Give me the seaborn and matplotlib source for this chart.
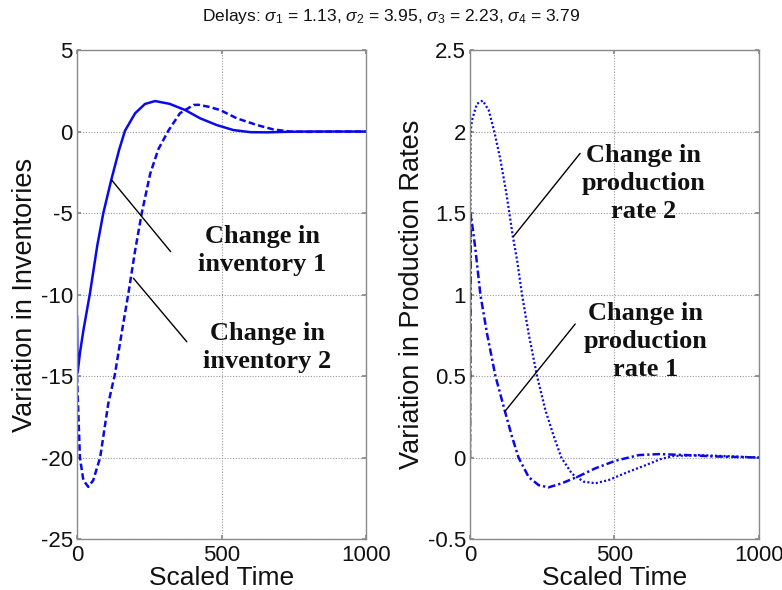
import matplotlib
matplotlib.use("Agg")
import matplotlib.pyplot as plt
import seaborn as sns
import pandas as pd

# ---------------- data ----------------
t_inv1 = [0, 2, 10, 22, 45, 70, 91, 118, 146, 166, 201, 235, 270, 320, 374,
          426, 483, 541, 600, 660, 720, 800, 900, 1000]
inv1 = [-11.3, -14.8, -13.6, -12.2, -9.9, -7.0, -5.0, -3.0, -1.1, 0.05, 1.12,
        1.69, 1.87, 1.70, 1.32, 0.81, 0.40, 0.09, -0.04, -0.05, -0.02, 0.0,
        0.0, 0.0]

t_inv2 = [0, 10, 22, 39, 56, 80, 108, 131, 155, 178, 201, 224, 253, 281, 316,
          356, 403, 420, 455, 495, 553, 622, 679, 737, 800, 900, 1000]
inv2 = [-15.0, -20.0, -21.4, -21.8, -21.4, -20.0, -16.7, -14.9, -12.3, -9.9,
        -7.3, -5.0, -2.6, -1.1, 0.05, 1.12, 1.63, 1.64, 1.52, 1.32, 0.81, 0.40,
        0.13, 0.0, -0.02, 0.0, 0.0]

t_rate1 = [0, 3, 18, 36, 59, 88, 120, 145, 168, 203, 238, 272, 318, 376, 434,
           503, 584, 653, 750, 840, 1000]
rate1 = [0.0, 1.49, 1.29, 1.0, 0.76, 0.50, 0.29, 0.13, 0.0, -0.12, -0.17,
         -0.183, -0.158, -0.115, -0.066, -0.02, 0.015, 0.021, 0.015, 0.007, 0.0]

t_rate2 = [0, 2, 7, 24, 44, 65, 84, 105, 126, 148, 163, 180, 203, 232, 261,
           290, 316, 353, 393, 434, 480, 549, 611, 657, 703, 790, 905, 1000]
rate2 = [0.0, 2.0, 2.07, 2.17, 2.19, 2.13, 2.0, 1.83, 1.62, 1.36, 1.21, 1.0,
         0.76, 0.50, 0.29, 0.13, 0.0, -0.10, -0.148, -0.158, -0.138, -0.087,
         -0.045, -0.011, 0.009, 0.015, 0.007, 0.0]

x_ticks = [0, 500, 1000]
inv_ticks = [-25, -20, -15, -10, -5, 0, 5]
rate_ticks = [-0.5, 0, 0.5, 1, 1.5, 2, 2.5]
x_tick_labels = ["0", "500", "1000"]
inv_tick_labels = ["-25", "-20", "-15", "-10", "-5", "0", "5"]
rate_tick_labels = ["-0.5", "0", "0.5", "1", "1.5", "2", "2.5"]

title = (r"Delays: $\sigma_1$ = 1.13, $\sigma_2$ = 3.95, "
         r"$\sigma_3$ = 2.23, $\sigma_4$ = 3.79")

# ---------------- styling ----------------
sns.set_theme(style="white")
plt.rcParams["font.family"] = ["Liberation Sans", "DejaVu Sans"]
plt.rcParams["mathtext.fontset"] = "custom"
plt.rcParams["mathtext.rm"] = "Liberation Sans"
plt.rcParams["mathtext.it"] = "Liberation Sans:italic"

BLUE = "#0a0ae6"
GRAY = "#8a8a8a"

fig = plt.figure(figsize=(7.82, 5.90), dpi=100)
axL = fig.add_axes([0.0985, 0.0864, 0.3696, 0.8288])
axR = fig.add_axes([0.601, 0.0864, 0.3696, 0.8288])

df1 = pd.DataFrame({"t": t_inv1, "v": inv1})
df2 = pd.DataFrame({"t": t_inv2, "v": inv2})
df3 = pd.DataFrame({"t": t_rate1, "v": rate1})
df4 = pd.DataFrame({"t": t_rate2, "v": rate2})

lw = 1.8
sns.lineplot(data=df1, x="t", y="v", ax=axL, color=BLUE, lw=lw,
             linestyle="-", sort=False)
sns.lineplot(data=df2, x="t", y="v", ax=axL, color=BLUE, lw=lw,
             linestyle=(0, (2.6, 1.3)), sort=False)
sns.lineplot(data=df3, x="t", y="v", ax=axR, color=BLUE, lw=lw,
             linestyle=(0, (3.0, 1.2, 0.9, 1.2)), sort=False)
sns.lineplot(data=df4, x="t", y="v", ax=axR, color=BLUE, lw=lw * 0.9,
             linestyle=(0, (0.9, 1.0)), sort=False)

for ax, yt, ytl, ylim, ylab in [
        (axL, inv_ticks, inv_tick_labels, (-25, 5), "Variation in Inventories"),
        (axR, rate_ticks, rate_tick_labels, (-0.5, 2.5),
         "Variation in Production Rates")]:
    ax.set_xlim(0, 1000)
    ax.set_ylim(*ylim)
    ax.set_xticks(x_ticks)
    ax.set_xticklabels(x_tick_labels)
    ax.set_yticks(yt)
    ax.set_yticklabels(ytl)
    ax.grid(True, color="#9a9a9a", linestyle=(0, (1, 1.5)), lw=0.8)
    ax.set_axisbelow(True)
    for s in ax.spines.values():
        s.set_color(GRAY)
        s.set_linewidth(1.0)
        s.set_visible(True)
    ax.tick_params(axis="both", direction="in", length=3, color=GRAY,
                   labelsize=16, labelcolor="#111111",
                   top=True, right=True, bottom=True, left=True)
    ax.tick_params(axis="y", pad=3)
    ax.tick_params(axis="x", pad=4)
    ax.set_xlabel("Scaled Time", fontsize=19, color="#111111", labelpad=0)
    ax.set_ylabel(ylab, fontsize=19.5, color="#111111", labelpad=2)

fig.suptitle(title, x=0.5, y=0.965, va="baseline", fontsize=12.5,
             color="#111111")

# ---------------- annotations ----------------
ann_font = dict(family=["Liberation Serif", "DejaVu Serif"], weight="bold",
                size=19, color="#111111", ha="center", va="baseline",
                multialignment="center", linespacing=1.28)
line_kw = dict(arrowstyle="-", color="black", lw=1.0, shrinkA=0, shrinkB=0)

axL.annotate("", xy=(120, -2.98), xytext=(324, -7.37), arrowprops=line_kw)
axL.text(642, -8.54, "Change in\ninventory 1", **ann_font)
axL.annotate("", xy=(195, -9.0), xytext=(380, -12.9), arrowprops=line_kw)
axL.text(659, -14.53, "Change in\ninventory 2", **ann_font)

axR.annotate("", xy=(150, 1.355), xytext=(381, 1.866), arrowprops=line_kw)
axR.text(602, 1.469, "Change in\nproduction\nrate 2", **ann_font)
axR.annotate("", xy=(120, 0.281), xytext=(364, 0.819), arrowprops=line_kw)
axR.text(608, 0.50, "Change in\nproduction\nrate 1", **ann_font)

fig.savefig("out.png", dpi=100, facecolor="white")
